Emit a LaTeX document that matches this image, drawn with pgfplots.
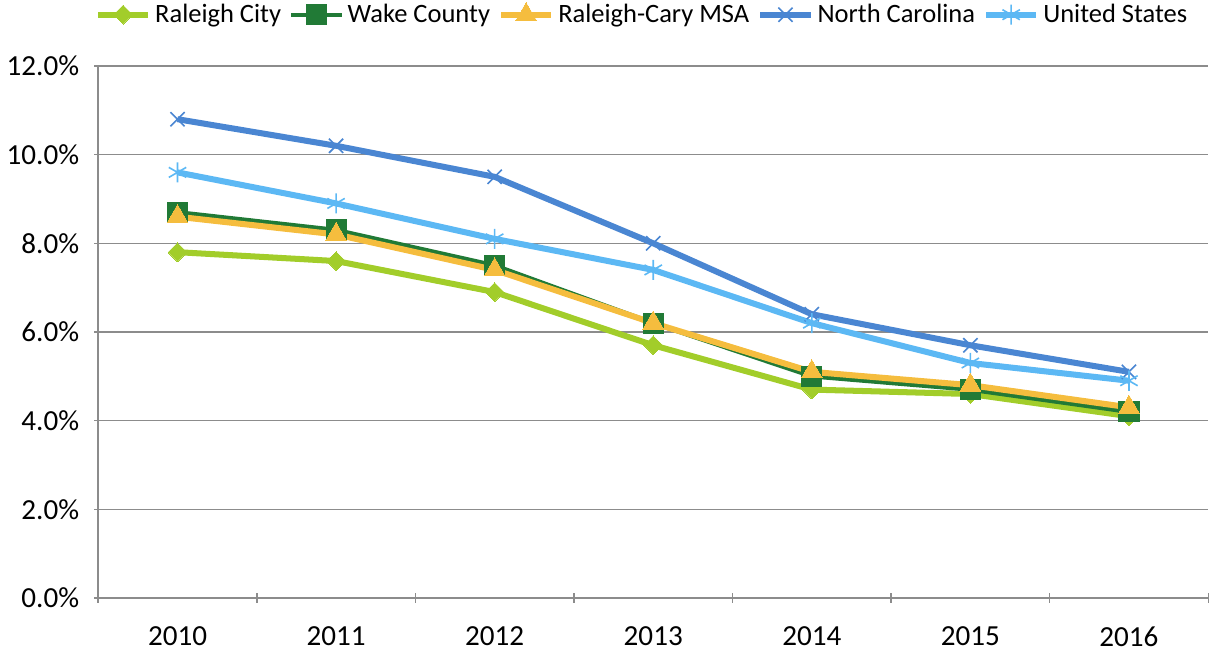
\documentclass[border=0pt]{standalone}
\usepackage{pgfplots}
\pgfplotsset{compat=1.18}
\usepackage{fontspec}
\setmainfont{Carlito}

\definecolor{cityc}{HTML}{A2CD2A}
\definecolor{wakec}{HTML}{217A36}
\definecolor{msac}{HTML}{F5BD3E}
\definecolor{ncc}{HTML}{4A86D2}
\definecolor{usc}{HTML}{5CB8F4}
\definecolor{gridc}{HTML}{8C8C8C}

\begin{document}
\begin{tikzpicture}
\begin{axis}[
    scale only axis,
    width=553pt,
    height=265pt,
    xmin=-0.5, xmax=6.5,
    ymin=0, ymax=12,
    xtick={0,...,6},
    xticklabels={2010,2011,2012,2013,2014,2015,2016},
    minor xtick={-0.5,0.5,...,6.5},
    ytick={0,2,...,12},
    major x tick style={draw=none},
    minor tick length=5pt,
    major tick length=4pt,
    tick align=outside,
    tick style={gridc, line width=0.75pt},
    ymajorgrids,
    grid style={gridc, line width=0.75pt},
    axis lines=left,
    axis line style={-, gridc, line width=0.75pt},
    yticklabel={\pgfmathprintnumber[fixed,fixed zerofill,precision=1]{\tick}\%},
    /pgf/number format/assume math mode=true,
    tick label style={font=\fontsize{14.5}{16}\selectfont},
    xticklabel style={yshift=-9pt},
    yticklabel style={xshift=-4pt},
    legend style={draw=none, font=\fontsize{13.2}{15}\selectfont,
        at={(0.49,1.068)}, anchor=south, column sep=1pt, inner sep=0pt,
        nodes={inner xsep=1pt},
        /tikz/every even column/.append style={column sep=3pt}},
    legend columns=5,
    legend image code/.code={
        \draw[#1, mark repeat=2, mark phase=2] plot coordinates {(0pt,0pt) (12.5pt,0pt) (25pt,0pt)};},
    every axis plot/.append style={line width=3pt, line join=round},
    clip=false,
]
\addplot[cityc, mark=square*, mark size=3.3pt, mark options={solid, line width=0pt, rotate=45}]
    coordinates {(0,7.8) (1,7.6) (2,6.9) (3,5.7) (4,4.7) (5,4.6) (6,4.1)};
\addlegendentry{Raleigh City}
\addplot[wakec, line width=2.2pt, mark=square*, mark size=5pt, mark options={line width=0pt}]
    coordinates {(0,8.7) (1,8.3) (2,7.5) (3,6.2) (4,5.0) (5,4.7) (6,4.2)};
\addlegendentry{Wake County}
\addplot[msac, mark=triangle*, mark size=6pt, mark options={line width=0pt}]
    coordinates {(0,8.6) (1,8.2) (2,7.4) (3,6.2) (4,5.1) (5,4.8) (6,4.3)};
\addlegendentry{Raleigh-Cary MSA}
\addplot[ncc, mark=x, mark size=5pt, mark options={line width=0.8pt}]
    coordinates {(0,10.8) (1,10.2) (2,9.5) (3,8.0) (4,6.4) (5,5.7) (6,5.1)};
\addlegendentry{North Carolina}
\addplot[usc, mark=asterisk, mark size=5pt, mark options={line width=0.8pt}]
    coordinates {(0,9.6) (1,8.9) (2,8.1) (3,7.4) (4,6.2) (5,5.3) (6,4.9)};
\addlegendentry{United States}
\end{axis}
\end{tikzpicture}
\end{document}
